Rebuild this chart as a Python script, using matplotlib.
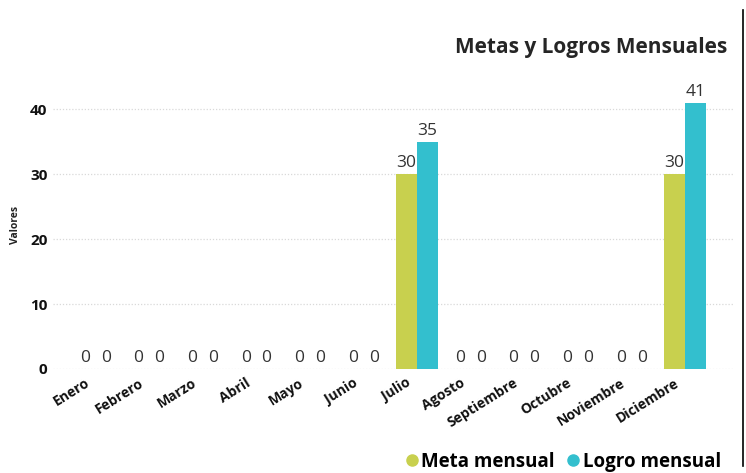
import matplotlib
matplotlib.use("Agg")
import matplotlib.pyplot as plt
from matplotlib.lines import Line2D
import numpy as np

months = ["Enero", "Febrero", "Marzo", "Abril", "Mayo", "Junio", "Julio",
          "Agosto", "Septiembre", "Octubre", "Noviembre", "Diciembre"]
meta = [0, 0, 0, 0, 0, 0, 30, 0, 0, 0, 0, 30]
logro = [0, 0, 0, 0, 0, 0, 35, 0, 0, 0, 0, 41]
yticks = [0, 10, 20, 30, 40]

c_meta = "#C8D04E"
c_logro = "#33BFCE"

plt.rcParams["font.family"] = ["Open Sans", "DejaVu Sans"]

W, H = 746, 473
fig = plt.figure(figsize=(W / 100, H / 100), dpi=100)
left, right = 53 / W, 733 / W
bottom = 1 - 369 / H
top = 1 - (369 - 42 * 6.5) / H
ax = fig.add_axes([left, bottom, right - left, top - bottom])

x = np.arange(len(months))
bw = 0.39
b1 = ax.bar(x - bw / 2, meta, bw, color=c_meta, zorder=3)
b2 = ax.bar(x + bw / 2, logro, bw, color=c_logro, zorder=3)

for bars in (b1, b2):
    for r in bars:
        h = r.get_height()
        ax.annotate(f"{h:g}", (r.get_x() + r.get_width() / 2, h),
                    xytext=(0, 2), textcoords="offset points",
                    ha="center", va="bottom", fontsize=12.5, color="#333333",
                    zorder=4)

ax.set_xlim(-0.79, 11.9)
ax.set_ylim(0, 42)
ax.tick_params(axis="both", length=0, pad=4)
ax.tick_params(axis="x", pad=5)
ax.set_yticks(yticks)
ax.set_yticklabels([str(v) for v in yticks], fontsize=11, fontweight="bold", color="#111111")
ax.set_xticks(x - 0.2)
ax.set_xticklabels(months, fontsize=10, fontweight="bold", color="#111111")
for lab in ax.get_xticklabels():
    lab.set_rotation(32)
    lab.set_ha("right")
    lab.set_va("top")
    lab.set_rotation_mode("anchor")
ax.grid(axis="y", color="#d9d9d9", linestyle=(0, (1, 1.5)), linewidth=0.9, zorder=0)
for s in ax.spines.values():
    s.set_visible(False)

fig.text(15 / W, 1 - 225 / H, "Valores", rotation=90, ha="center", va="center",
         fontsize=7.5, fontweight="bold", color="#222222")

fig.text(727 / W, 1 - 48 / H, "Metas y Logros Mensuales", ha="right", va="center",
         fontsize=15, fontweight="bold", color="#252525")

handles = [Line2D([], [], marker="o", linestyle="", markersize=8, color=c_meta),
           Line2D([], [], marker="o", linestyle="", markersize=8, color=c_logro)]
fig.legend(handles, ["Meta mensual", "Logro mensual"], loc="center right",
           bbox_to_anchor=(721 / W, 1 - 462 / H), ncol=2, frameon=False,
           prop={"size": 13.5, "weight": "bold"}, handletextpad=0.0,
           columnspacing=0.5, handlelength=1.0, borderaxespad=0, borderpad=0)

fig.add_artist(Line2D([743 / W, 743 / W], [1 - 10 / H, 1 - 466 / H],
                      transform=fig.transFigure, color="black", linewidth=1.2))

fig.savefig("out.png", dpi=100)
